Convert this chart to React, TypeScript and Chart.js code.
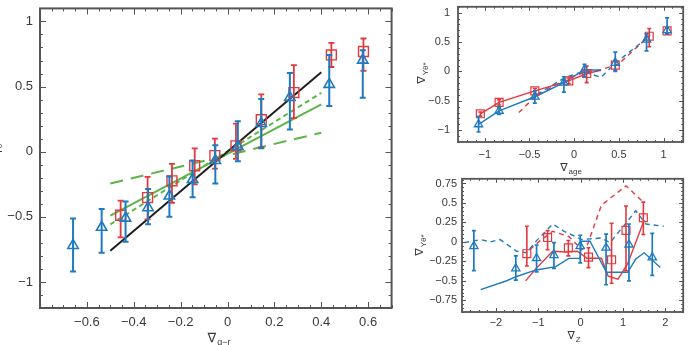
import { useEffect, useRef } from "react";
import { Chart, registerables } from "chart.js";

Chart.register(...registerables);

const BLUE = "#1f7bc1";
const RED = "#e2393f";
const GREEN = "#5cb548";
const BLACK = "#1e1e1e";
const FRAME = "#555555";
const TEXT = "#3a3a3a";
const FONT = '"Liberation Sans", "DejaVu Sans", Arial, sans-serif';

// ---- colour-gradient panel ----
const grTicksX = [-0.6, -0.4, -0.2, 0, 0.2, 0.4, 0.6];
const grTicksY = [-1, -0.5, 0, 0.5, 1];

const grBlueX = [-0.659, -0.537, -0.435, -0.339, -0.248, -0.149, -0.052, 0.044, 0.144, 0.266, 0.434, 0.577];
const grBlueY = [-0.72, -0.58, -0.51, -0.43, -0.34, -0.214, -0.068, 0.04, 0.216, 0.417, 0.517, 0.703];
const grBlueLo = [-0.92, -0.776, -0.691, -0.558, -0.5, -0.35, -0.244, -0.073, 0.027, 0.17, 0.351, 0.414];
const grBlueHi = [-0.512, -0.44, -0.382, -0.286, -0.19, -0.068, 0.05, 0.234, 0.404, 0.605, 0.743, 0.778];

const grRedX = [-0.456, -0.341, -0.237, -0.14, -0.054, 0.036, 0.144, 0.283, 0.443, 0.58];
const grRedY = [-0.488, -0.352, -0.224, -0.108, -0.03, 0.045, 0.246, 0.454, 0.743, 0.769];
const grRedLo = [-0.658, -0.52, -0.392, -0.251, -0.13, -0.055, 0.035, 0.258, 0.65, 0.62];
const grRedHi = [-0.375, -0.194, -0.093, 0.025, 0.1, 0.216, 0.44, 0.665, 0.836, 0.869];

const grFitX = [-0.5, 0.4];
const grFitBlack = [-0.76, 0.61];
const grFitGreen = [-0.49, 0.364];
const grFitGreenShort = [-0.558, 0.452];
const grFitGreenLong = [-0.244, 0.146];

// ---- age-gradient panel ----
const ageTicksX = [-1, -0.5, 0, 0.5, 1];
const ageTicksY = [-1, -0.5, 0, 0.5, 1];

const ageBlueX = [-1.07, -0.84, -0.44, -0.115, 0.116, 0.46, 0.81, 1.04];
const ageBlueY = [-0.9, -0.67, -0.43, -0.19, 0.03, 0.146, 0.54, 0.7];
const ageBlueLo = [-1.03, -0.73, -0.54, -0.35, -0.09, 0.0, 0.35, 0.64];
const ageBlueHi = [-0.77, -0.61, -0.33, -0.09, 0.12, 0.33, 0.64, 0.91];

const ageRedX = [-1.05, -0.84, -0.44, -0.06, 0.14, 0.46, 0.84, 1.04];
const ageRedY = [-0.72, -0.525, -0.33, -0.16, -0.035, 0.107, 0.6, 0.69];
const ageRedLo = [-0.76, -0.57, -0.37, -0.21, -0.19, 0.02, 0.42, 0.64];
const ageRedHi = [-0.69, -0.48, -0.29, -0.11, 0.09, 0.19, 0.73, 0.74];

const ageBlueLineX = [-1.07, -0.84, -0.44, -0.115, 0.116, 0.3];
const ageBlueLineY = [-0.9, -0.67, -0.43, -0.19, 0.03, 0.02];
const ageRedLineX = [-1.05, -0.84, -0.44, -0.06, 0.14, 0.3];
const ageRedLineY = [-0.72, -0.525, -0.33, -0.16, -0.035, 0.02];
const ageRedDashX = [-0.62, -0.45, -0.1, 0.15, 0.3, 0.5, 0.85];
const ageRedDashY = [-0.7, -0.45, -0.13, 0.0, 0.03, 0.13, 0.62];
const ageBlueDashX = [-0.5, -0.1, 0.1, 0.3, 0.46, 0.8];
const ageBlueDashY = [-0.47, -0.1, 0.0, -0.1, 0.14, 0.55];

// ---- metallicity-gradient panel ----
const zTicksX = [-2, -1, 0, 1, 2];
const zTicksY = [-0.75, -0.5, -0.25, 0, 0.25, 0.5, 0.75];

const zBlueX = [-2.52, -1.53, -1.04, -0.63, -0.01, 0.6, 1.14, 1.69];
const zBlueY = [-0.055, -0.34, -0.21, -0.17, -0.055, -0.076, -0.035, -0.2];
const zBlueLo = [-0.37, -0.49, -0.385, -0.34, -0.27, -0.55, -0.5, -0.43];
const zBlueHi = [0.145, -0.18, -0.04, -0.01, 0.085, 0.1, 0.23, 0.11];

const zRedX = [-1.27, -0.78, -0.29, 0.185, 0.73, 1.07, 1.48];
const zRedY = [-0.152, 0.056, -0.076, -0.195, -0.23, 0.148, 0.31];
const zRedLo = [-0.31, -0.1, -0.18, -0.33, -0.53, -0.37, 0.094];
const zRedHi = [0.2, 0.145, 0.018, -0.076, 0.24, 0.46, 0.51];

const zBlueSolidX = [-2.36, -1.745, -1.51, -1.05, -0.587, -0.278, -0.01, 0.015, 0.22, 0.61, 1.11, 1.3, 1.5, 1.88];
const zBlueSolidY = [-0.613, -0.499, -0.444, -0.36, -0.317, -0.211, -0.211, 0.009, 0.009, -0.39, -0.39, -0.22, -0.14, -0.33];
const zBlueDashX = [-2.75, -2.36, -2.13, -1.9, -1.51, -1.28, -1.05, -0.66, -0.39, 0.03, 0.49, 0.69, 1.04, 1.3, 1.54, 1.96];
const zBlueDashY = [-0.01, 0.03, 0.0, 0.03, -0.12, -0.14, 0.01, 0.23, 0.136, 0.03, 0.05, -0.01, 0.22, 0.4, 0.23, 0.2];
const zRedSolidX = [-1.3, -1.05, -0.66, -0.36, -0.08, 0.15, 0.49, 0.65, 0.88, 1.11, 1.5];
const zRedSolidY = [-0.5, -0.34, -0.12, -0.13, -0.12, -0.21, -0.21, -0.44, -0.48, -0.28, 0.28];
const zRedDashX = [-1.2, -0.97, -0.66, -0.28, 0.03, 0.15, 0.49, 1.07, 1.5];
const zRedDashY = [-0.1, 0.01, 0.136, 0.07, -0.1, -0.05, 0.47, 0.72, 0.5];

const pts = (xs: number[], ys: number[]) => xs.map((x, i) => ({ x, y: ys[i] }));

const minus = (v: number) => (v < 0 ? "\u2212" + String(Math.abs(v)) : String(v));

function markers(xs: number[], ys: number[], lo: number[], hi: number[], color: string, style: string, r: number, bw: number, cap: number) {
  return {
    data: pts(xs, ys),
    showLine: false,
    pointStyle: style,
    pointRadius: r,
    pointBorderWidth: bw,
    pointBorderColor: color,
    borderColor: color,
    pointBackgroundColor: "rgba(0,0,0,0)",
    backgroundColor: "rgba(0,0,0,0)",
    errLo: lo,
    errHi: hi,
    errColor: color,
    errWidth: bw + 0.4,
    errCap: cap,
  };
}

function curve(xs: number[], ys: number[], color: string, width: number, dash: number[] = []) {
  return {
    data: pts(xs, ys),
    showLine: true,
    borderColor: color,
    borderWidth: width,
    borderDash: dash,
    pointRadius: 0,
    tension: 0,
  };
}

// vertical error bars with caps, drawn right after their own dataset
const errorBars = {
  id: "errorBars",
  afterDatasetDraw(chart: any, args: any) {
    const ds = chart.data.datasets[args.index];
    if (!ds.errLo) return;
    const ctx = chart.ctx;
    const ys = chart.scales.y;
    const meta = chart.getDatasetMeta(args.index);
    ctx.save();
    ctx.strokeStyle = ds.errColor;
    ctx.lineWidth = ds.errWidth;
    meta.data.forEach((el: any, i: number) => {
      const x = el.x;
      const a = ys.getPixelForValue(ds.errLo[i]);
      const b = ys.getPixelForValue(ds.errHi[i]);
      ctx.beginPath();
      ctx.moveTo(x, a);
      ctx.lineTo(x, b);
      ctx.moveTo(x - ds.errCap, a);
      ctx.lineTo(x + ds.errCap, a);
      ctx.moveTo(x - ds.errCap, b);
      ctx.lineTo(x + ds.errCap, b);
      ctx.stroke();
    });
    ctx.restore();
  },
};

function drawNabla(ctx: CanvasRenderingContext2D, cx: number, cy: number, sub: string, size: number, rotate: boolean) {
  ctx.save();
  ctx.translate(cx, cy);
  if (rotate) ctx.rotate(-Math.PI / 2);
  const mainFont = `${size}px ${FONT}`;
  const subFont = `${Math.round(size * 0.72)}px ${FONT}`;
  ctx.font = mainFont;
  const w1 = ctx.measureText("\u2207").width;
  ctx.font = subFont;
  const w2 = ctx.measureText(sub).width;
  const start = -(w1 + w2 + 1) / 2;
  ctx.fillStyle = TEXT;
  ctx.textAlign = "left";
  ctx.textBaseline = "alphabetic";
  ctx.font = mainFont;
  ctx.fillText("\u2207", start, size * 0.35);
  ctx.font = subFont;
  ctx.fillText(sub, start + w1 + 1, size * 0.35 + size * 0.3);
  ctx.restore();
}

function range(min: number, max: number, step: number) {
  const out: number[] = [];
  const n = Math.floor((max - min) / step + 1e-6);
  for (let i = 0; i <= n; i++) out.push(+(min + i * step).toFixed(4));
  return out;
}

interface PanelSpec {
  w: number;
  h: number;
  xMin: number;
  xMax: number;
  yMin: number;
  yMax: number;
  xTicks: number[];
  yTicks: number[];
  xMinorStep: number;
  yMinorStep: number;
  yAxisWidth: number;
  xAxisHeight: number;
  padTop: number;
  padRight: number;
  fontSize: number;
  xPad: number;
  yPad: number;
  majorLen: number;
  minorLen: number;
  frameWidth: number;
  xTitle: { sub: string; x: number; y: number };
  yTitle: { sub: string; x: number; y: number };
  titleSize: number;
  datasets: any[];
}

function buildConfig(s: PanelSpec): any {
  const framePlugin = {
    id: "frameTicks",
    afterDraw(chart: any) {
      const { ctx, chartArea: a } = chart;
      const xs = chart.scales.x;
      const ys = chart.scales.y;
      ctx.save();
      ctx.strokeStyle = FRAME;
      ctx.lineWidth = 1;
      const xMinor = range(Math.ceil(s.xMin / s.xMinorStep - 1e-6) * s.xMinorStep, s.xMax, s.xMinorStep);
      const yMinor = range(Math.ceil(s.yMin / s.yMinorStep - 1e-6) * s.yMinorStep, s.yMax, s.yMinorStep);
      ctx.beginPath();
      xMinor.forEach((v) => {
        const p = Math.round(xs.getPixelForValue(v)) + 0.5;
        const len = s.xTicks.some((t) => Math.abs(t - v) < 1e-6) ? s.majorLen : s.minorLen;
        ctx.moveTo(p, a.bottom);
        ctx.lineTo(p, a.bottom - len);
        ctx.moveTo(p, a.top);
        ctx.lineTo(p, a.top + len);
      });
      yMinor.forEach((v) => {
        const p = Math.round(ys.getPixelForValue(v)) + 0.5;
        const len = s.yTicks.some((t) => Math.abs(t - v) < 1e-6) ? s.majorLen : s.minorLen;
        ctx.moveTo(a.left, p);
        ctx.lineTo(a.left + len, p);
        ctx.moveTo(a.right, p);
        ctx.lineTo(a.right - len, p);
      });
      ctx.stroke();
      ctx.lineWidth = s.frameWidth;
      ctx.strokeRect(a.left, a.top, a.right - a.left, a.bottom - a.top);
      ctx.restore();
      drawNabla(ctx, s.xTitle.x, s.xTitle.y, s.xTitle.sub, s.titleSize, false);
      drawNabla(ctx, s.yTitle.x, s.yTitle.y, s.yTitle.sub, s.titleSize, true);
    },
  };

  const tickFont = { family: FONT, size: s.fontSize };

  return {
    type: "scatter",
    data: { datasets: s.datasets },
    options: {
      responsive: false,
      animation: false,
      events: [],
      layout: { padding: { top: s.padTop, right: s.padRight, left: 0, bottom: 0 } },
      plugins: { legend: { display: false }, tooltip: { enabled: false } },
      scales: {
        x: {
          type: "linear",
          min: s.xMin,
          max: s.xMax,
          grid: { display: false, drawTicks: false },
          border: { display: false },
          ticks: { padding: s.xPad, font: tickFont, color: TEXT, autoSkip: false, maxRotation: 0, callback: (v: number) => minus(v) },
          afterBuildTicks: (sc: any) => {
            sc.ticks = s.xTicks.map((v) => ({ value: v }));
          },
          afterFit: (sc: any) => {
            sc.height = s.xAxisHeight;
            sc.paddingLeft = 0;
            sc.paddingRight = 0;
          },
        },
        y: {
          type: "linear",
          min: s.yMin,
          max: s.yMax,
          grid: { display: false, drawTicks: false },
          border: { display: false },
          ticks: { padding: s.yPad, font: tickFont, color: TEXT, autoSkip: false, callback: (v: number) => minus(v) },
          afterBuildTicks: (sc: any) => {
            sc.ticks = s.yTicks.map((v) => ({ value: v }));
          },
          afterFit: (sc: any) => {
            sc.width = s.yAxisWidth;
            sc.paddingTop = 0;
            sc.paddingBottom = 0;
          },
        },
      },
    },
    plugins: [errorBars, framePlugin],
  };
}

const grSpec: PanelSpec = {
  w: 400,
  h: 345,
  xMin: -0.8,
  xMax: 0.7,
  yMin: -1.2,
  yMax: 1.1,
  xTicks: grTicksX,
  yTicks: grTicksY,
  xMinorStep: 0.05,
  yMinorStep: 0.1,
  yAxisWidth: 40,
  xAxisHeight: 37,
  padTop: 4,
  padRight: 1,
  fontSize: 13,
  xPad: 7,
  yPad: 7,
  majorLen: 6,
  minorLen: 3,
  frameWidth: 2,
  xTitle: { sub: "g\u2212r", x: 219, y: 337 },
  yTitle: { sub: "Y\u03b8*", x: -6, y: 152 },
  titleSize: 13,
  datasets: [
    markers(grBlueX, grBlueY, grBlueLo, grBlueHi, BLUE, "triangle", 6, 1.6, 3),
    markers(grRedX, grRedY, grRedLo, grRedHi, RED, "rect", 7, 1.4, 3),
    curve(grFitX, grFitBlack, BLACK, 2),
    curve(grFitX, grFitGreen, GREEN, 2),
    curve(grFitX, grFitGreenShort, GREEN, 2, [5, 3.5]),
    curve(grFitX, grFitGreenLong, GREEN, 2, [13, 8]),
  ],
};

const ageSpec: PanelSpec = {
  w: 290,
  h: 178,
  xMin: -1.3,
  xMax: 1.22,
  yMin: -1.2,
  yMax: 1.1,
  xTicks: ageTicksX,
  yTicks: ageTicksY,
  xMinorStep: 0.1,
  yMinorStep: 0.1,
  yAxisWidth: 58,
  xAxisHeight: 36,
  padTop: 6,
  padRight: 5,
  fontSize: 11,
  xPad: 6,
  yPad: 8,
  majorLen: 4,
  minorLen: 2,
  frameWidth: 1.8,
  xTitle: { sub: "age", x: 171, y: 167 },
  yTitle: { sub: "Y\u03b8*", x: 21, y: 73 },
  titleSize: 11,
  datasets: [
    markers(ageBlueX, ageBlueY, ageBlueLo, ageBlueHi, BLUE, "triangle", 4.8, 1.3, 2),
    markers(ageRedX, ageRedY, ageRedLo, ageRedHi, RED, "rect", 5.6, 1.2, 2),
    curve(ageBlueLineX, ageBlueLineY, BLUE, 1.4),
    curve(ageRedLineX, ageRedLineY, RED, 1.4),
    curve(ageBlueDashX, ageBlueDashY, BLUE, 1.4, [5, 4]),
    curve(ageRedDashX, ageRedDashY, RED, 1.4, [5, 4]),
  ],
};

const zSpec: PanelSpec = {
  w: 290,
  h: 173,
  xMin: -2.8,
  xMax: 2.42,
  yMin: -0.9,
  yMax: 0.81,
  xTicks: zTicksX,
  yTicks: zTicksY,
  xMinorStep: 0.2,
  yMinorStep: 0.05,
  yAxisWidth: 62,
  xAxisHeight: 33,
  padTop: 5,
  padRight: 3,
  fontSize: 11,
  xPad: 4,
  yPad: 5,
  majorLen: 4,
  minorLen: 2,
  frameWidth: 1.8,
  xTitle: { sub: "Z", x: 174, y: 163 },
  yTitle: { sub: "Y\u03b8*", x: 19, y: 73 },
  titleSize: 11,
  datasets: [
    markers(zBlueX, zBlueY, zBlueLo, zBlueHi, BLUE, "triangle", 4.8, 1.3, 2),
    markers(zRedX, zRedY, zRedLo, zRedHi, RED, "rect", 5.6, 1.2, 2),
    curve(zBlueSolidX, zBlueSolidY, BLUE, 1.4),
    curve(zRedSolidX, zRedSolidY, RED, 1.4),
    curve(zBlueDashX, zBlueDashY, BLUE, 1.4, [5, 4]),
    curve(zRedDashX, zRedDashY, RED, 1.4, [5, 4]),
  ],
};

function Panel({ spec, left, top }: { spec: PanelSpec; left: number; top: number }) {
  const ref = useRef<HTMLCanvasElement>(null);
  useEffect(() => {
    const chart = new Chart(ref.current as HTMLCanvasElement, buildConfig(spec));
    return () => chart.destroy();
  }, [spec]);
  return (
    <canvas
      ref={ref}
      width={spec.w}
      height={spec.h}
      style={{ position: "absolute", left, top, width: spec.w, height: spec.h }}
    />
  );
}

export default function App() {
  return (
    <div style={{ position: "fixed", left: 0, top: 0, width: 690, height: 345, background: "#ffffff", overflow: "hidden" }}>
      <Panel spec={grSpec} left={0} top={0} />
      <Panel spec={ageSpec} left={400} top={0} />
      <Panel spec={zSpec} left={400} top={172} />
    </div>
  );
}
